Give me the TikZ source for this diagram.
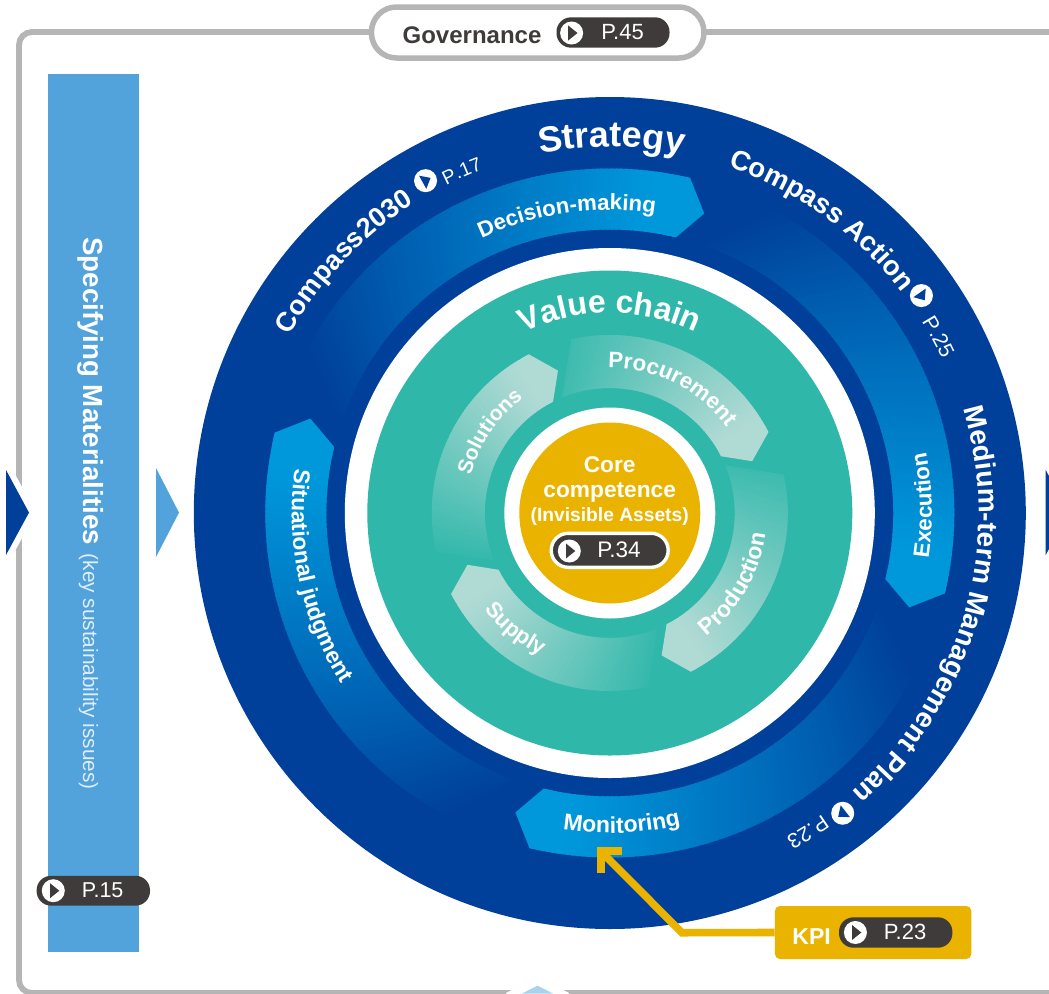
\documentclass[tikz,border=0pt]{standalone}
\usepackage{fontspec}
\setmainfont{Liberation Sans}
\usetikzlibrary{decorations.text}
\definecolor{navy}{HTML}{00409A}
\definecolor{bright}{HTML}{0098DB}
\definecolor{teal}{HTML}{2FB7AA}
\definecolor{pale}{HTML}{B0DAD4}
\definecolor{gold}{HTML}{EAB300}
\definecolor{barblue}{HTML}{52A2DC}
\definecolor{skyblue}{HTML}{A8D3EE}
\definecolor{framegray}{HTML}{B5B5B5}
\definecolor{pilldark}{HTML}{3F3B3A}
\newcommand{\fnt}[1]{\fontsize{#1}{#1}\selectfont}
% graded arrow band, clockwise from tail to head
\newcommand{\sweep}[9]{%
  \foreach \i in {1,...,#9}{%
    \pgfmathsetmacro{\ta}{(\i-1)/#9}%
    \pgfmathsetmacro{\tb}{min(1,(\i+0.6)/#9)}%
    \pgfmathsetmacro{\mx}{min(100,100*\ta/0.92)}%
    \fill[#8!\mx!#7] ({#3+\ta*(#5-(#3))}:#1pt) -- ({#4+\ta*(#5-(#4))}:#2pt)
      -- ({#4+\tb*(#5-(#4))}:#2pt) -- ({#3+\tb*(#5-(#3))}:#1pt) -- cycle;
  }%
  \pgfmathsetmacro{\rm}{(#1+#2)/2}%
  \fill[#8] ({#5+2.5}:#1pt) -- ({#5+1.25}:#1pt) -- (#5:#1pt) -- (#6:\rm pt) -- (#5:#2pt)
     -- ({#5+1.25}:#2pt) -- ({#5+2.5}:#2pt) -- cycle;
}
% text along a clockwise arc: radius, centre angle, size, weight, text
\newcommand{\cwtext}[5]{%
  \path[decorate,decoration={text along path,text align={center},
    text={|\fnt{#3}#4\color{white}|#5}}]
    ({#2+70}:#1pt) arc[start angle={#2+70},delta angle=-140,radius=#1pt];
}
% text along a counter-clockwise arc
\newcommand{\ccwtext}[5]{%
  \path[decorate,decoration={text along path,text align={center},
    text={|\fnt{#3}#4\color{white}|#5}}]
    ({#2-70}:#1pt) arc[start angle={#2-70},delta angle=140,radius=#1pt];
}
\tikzset{
  pillbox/.style={fill=pilldark,rounded corners=14.5pt,inner sep=0pt},
  iconcirc/.style={circle,fill=white,inner sep=0pt,minimum size=23pt},
  pagetext/.style={text=white,inner sep=0pt,font=\fnt{22}},
  whitebold/.style={text=white,inner sep=0pt,anchor=base,font=\bfseries\fnt{22.7}},
}
\begin{document}
\begin{tikzpicture}
\begin{scope}[x=1pt,y=-1pt]
  \useasboundingbox (0,0) rectangle (1049,993);
  \clip (0,0) rectangle (1049,993);
  \fill[white] (0,0) rectangle (1049,993);

  % frame
  \draw[framegray,line width=5.8pt,rounded corners=13pt]
    (1070,32) -- (19,32) -- (19,993) -- (1070,993);

  % triangles on the frame
  \fill[white] (537.5,977) -- (569,993) -- (569,1010) -- (506,1010) -- (506,993) -- cycle;
  \fill[skyblue] (537.5,985.7) -- (553,993.5) -- (522,993.5) -- cycle;
  \draw[white,line width=12pt,line join=miter] (6,470) -- (29,512.6) -- (6,555) -- cycle;
  \fill[navy] (6,470) -- (29,512.6) -- (6,555) -- cycle;
  \draw[white,line width=12pt,line join=miter] (1045.7,470) -- (1068.7,512.6) -- (1045.7,555) -- cycle;
  \fill[navy] (1045.7,470) -- (1068.7,512.6) -- (1045.7,555) -- cycle;
  \fill[barblue] (156,468) -- (179,512.6) -- (156,557) -- cycle;

  % governance
  \node[draw=framegray,line width=5.5pt,fill=white,rounded corners=25pt,
        minimum width=332.5pt,minimum height=51pt,inner sep=0pt] (govbox) at (537.7,32.5) {};
  \node[text=pilldark,inner sep=0pt,anchor=base,font=\bfseries\fnt{24}] (govlabel) at (472,43.3) {Governance};
  \node[pillbox,minimum width=113pt,minimum height=30.4pt] (govpill) at (613,32.5) {};
  \node[iconcirc] (govicon) at (571.6,33) {};
  \fill[pilldark] (568.2,25.5) -- (568.2,40.5) -- (577.5,33) -- cycle;
  \node[pagetext] (govpage) at (622.5,32.5) {P.45};

  % left bar
  \fill[barblue] (48,74) rectangle (139,952);
  \node[rotate=-90,text=white,inner sep=0pt,anchor=base west,font=\bfseries\fnt{27.7}] (matlabel) at (83,237) {Specifying Materialities};
  \node[rotate=-90,text=white!82!barblue,inner sep=0pt,anchor=base west,font=\fnt{20.8}] (matnote) at (83,553.5) {(key sustainability issues)};
  \node[pillbox,minimum width=113.4pt,minimum height=29.9pt] (matpill) at (93.3,890.7) {};
  \node[iconcirc] (maticon) at (53.3,890.7) {};
  \fill[pilldark] (50,883.2) -- (50,898.2) -- (59.3,890.7) -- cycle;
  \node[pagetext,font=\fnt{21.5}] (matpage) at (102.7,890.5) {P.15};
\end{scope}

\begin{scope}[x=1pt,y=1pt,shift={(609.8pt,-513pt)}]
  % discs
  \fill[navy] (0,0) circle[radius=416pt];
  \sweep{283.5}{344.5}{162}{152}{76.5}{72.5}{navy}{bright}{90}
  \sweep{283.5}{344.5}{72}{62}{-13.5}{-17.5}{navy}{bright}{90}
  \sweep{283.5}{344.5}{342}{332}{256.5}{252.5}{navy}{bright}{90}
  \sweep{283.5}{344.5}{252}{242}{166.5}{162.5}{navy}{bright}{90}
  \fill[white] (0,0) circle[radius=265pt];
  \fill[teal] (0,0) circle[radius=242.5pt];
  \sweep{125}{178}{202.5}{192.5}{117}{110}{teal!95!pale}{pale}{70}
  \sweep{125}{178}{112.5}{102.5}{27}{20}{teal!88!pale}{pale}{70}
  \sweep{125}{178}{22.5}{12.5}{-63}{-70}{teal!88!pale}{pale}{70}
  \sweep{125}{178}{292.5}{282.5}{207}{200}{teal!95!pale}{pale}{70}
  \fill[white] (0,0) circle[radius=105.5pt];
  \node[circle,fill=gold,minimum size=181pt,inner sep=0pt] (core) at (0,0) {};

  % outer ring texts
  \cwtext{366}{89.7}{36}{\bfseries}{Strategy}
  \cwtext{366}{136.6}{27.2}{\bfseries}{Compass2030}
  \cwtext{366}{113.4}{19.5}{}{P.17}
  \cwtext{366}{54.1}{27.6}{\bfseries}{Compass Action}
  \cwtext{366}{28.2}{21}{}{P.25}
  \cwtext{369}{-16.3}{28}{\bfseries}{Medium-term Management Plan}
  \cwtext{369}{-58.2}{21}{}{P.23}
  % icons on the ring
  \node[iconcirc] (iconA) at (119:380pt) {};
  \fill[navy,shift={(119:380pt)},rotate=29] (-3.3,-7.5) -- (-3.3,7.5) -- (5.7,0) -- cycle;
  \node[iconcirc] (iconB) at (34.9:380pt) {};
  \fill[navy,shift={(34.9:380pt)},rotate=-55.1] (-3.3,-7.5) -- (-3.3,7.5) -- (5.7,0) -- cycle;
  \node[iconcirc] (iconC) at (-52.2:380pt) {};
  \fill[navy,shift={(-52.2:380pt)},rotate=-142.2] (-3.3,-7.5) -- (-3.3,7.5) -- (5.7,0) -- cycle;

  % blue band texts
  \cwtext{303}{98.2}{22.2}{\bfseries}{Decision-making}
  \ccwtext{322}{1.4}{22.4}{\bfseries}{Execution}
  \ccwtext{320}{272.2}{23}{\bfseries}{Monitoring}
  \ccwtext{318}{192.2}{22.8}{\bfseries}{Situational judgment}

  % value chain
  \cwtext{200}{90}{32}{\bfseries}{Value chain}
  \cwtext{144}{146}{21}{\bfseries}{Solutions}
  \cwtext{145}{63.4}{22.4}{\bfseries}{Procurement}
  \ccwtext{157}{-29.7}{23}{\bfseries}{Production}
  \ccwtext{158}{230.8}{22}{\bfseries}{Supply}
\end{scope}

\begin{scope}[x=1pt,y=-1pt]
  % core text
  \node[whitebold] (coreA) at (609.7,472) {Core};
  \node[whitebold] (coreB) at (609.7,497.7) {competence};
  \node[whitebold,font=\bfseries\fnt{19.2}] (coreC) at (609.7,521.7) {(Invisible Assets)};
  \node[pillbox,draw=white,line width=3.4pt,rounded corners=17pt,minimum width=117pt,minimum height=34pt] (corepill) at (609.7,550.3) {};
  \node[iconcirc] (coreicon) at (569.3,551) {};
  \fill[pilldark] (566,543.5) -- (566,558.5) -- (575.3,551) -- cycle;
  \node[pagetext,font=\fnt{22.5}] (corepage) at (619,550) {P.34};

  % KPI
  \node[fill=gold,rounded corners=5pt,inner sep=0pt,minimum width=196.4pt,minimum height=53pt] (kpi) at (873.1,932.5) {};
  \coordinate (kpielbow) at (682,932.7);
  \coordinate (kpitip) at (603,853.5);
  \draw[gold,line width=7.6pt,line join=miter] (kpi.west) -- (kpielbow) -- (kpitip);
  \coordinate (headA) at (621.8,851.4);
  \coordinate (headC) at (600.8,851.4);
  \coordinate (headB) at (600.8,872.7);
  \draw[gold,line width=8pt,line join=miter] (headA) -- (headC) -- (headB);
  \node[whitebold,font=\bfseries\fnt{23}] (kpilabel) at (811.6,944) {KPI};
  \node[pillbox,minimum width=113.4pt,minimum height=30.4pt] (kpipill) at (895.7,932.5) {};
  \node[iconcirc] (kpiicon) at (855.4,932.5) {};
  \fill[pilldark] (852,925) -- (852,940) -- (861.3,932.5) -- cycle;
  \node[pagetext] (kpipage) at (905,932) {P.23};
\end{scope}
\end{tikzpicture}
\end{document}
